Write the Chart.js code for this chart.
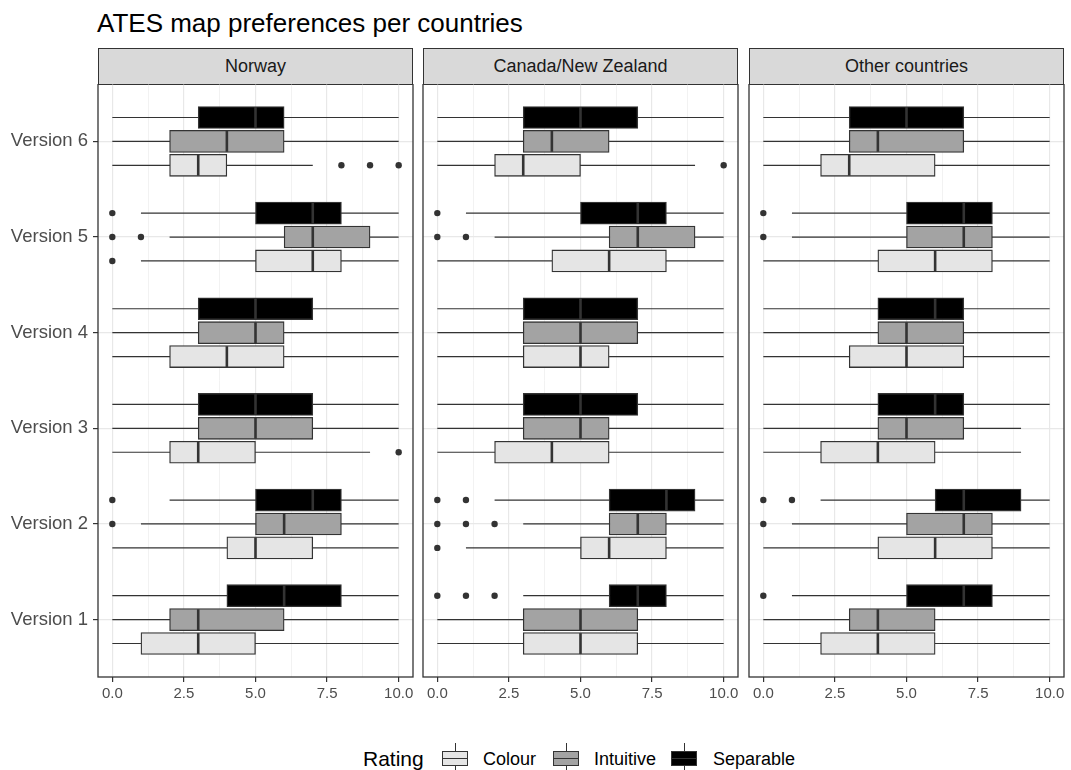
<!DOCTYPE html>
<html>
<head>
<meta charset="utf-8">
<script src="https://cdn.jsdelivr.net/npm/chart.js@4.4.1/dist/chart.umd.min.js"></script>
<style>
  html,body{margin:0;padding:0;background:#fff;}
  body{width:1071px;height:770px;position:relative;overflow:hidden;font-family:"Liberation Sans",Arial,sans-serif;}
  #title{position:absolute;left:97px;top:10px;font-size:26px;line-height:26px;color:#000;white-space:nowrap;}
  .strip{position:absolute;top:48px;height:37px;width:315px;background:#d9d9d9;border:1.3px solid #333;box-sizing:border-box;display:flex;align-items:center;justify-content:center;font-size:18px;color:#1a1a1a;white-space:nowrap;}
  canvas{position:absolute;}
  #legend{position:absolute;left:0;top:740px;width:1071px;height:30px;}
  .ltitle{position:absolute;left:363px;top:8px;font-size:21px;line-height:22px;color:#000;}
  .llab{position:absolute;top:9px;font-size:18px;line-height:20px;color:#000;white-space:nowrap;}
  .key{position:absolute;top:2px;width:26px;height:30px;}
  .key .stub{position:absolute;left:12.5px;width:1.2px;background:#333;}
  .key .box{position:absolute;left:0;top:9px;width:26px;height:15px;border:1.2px solid #333;box-sizing:border-box;}
  .key .mid{position:absolute;left:0;top:15.5px;width:26px;height:1.6px;background:#333;}
</style>
</head>
<body>
<div id="title">ATES map preferences per countries</div>
<div id="strips"></div>
<div id="charts"></div>
<div id="legend"></div>
<script>
// ---------------- data ----------------
const categories = ['Version 1','Version 2','Version 3','Version 4','Version 5','Version 6'];
const countries = ['Norway','Canada/New Zealand','Other countries'];
const ratings = ['Colour','Intuitive','Separable'];
const xTickValues = [0, 2.5, 5, 7.5, 10];
const xTickLabels = ['0.0','2.5','5.0','7.5','10.0'];
const xMinorValues = [1.25, 3.75, 6.25, 8.75];

// five-number summaries [min, Q1, median, Q3, max], Version 1 .. Version 6
const norwayColour    = [[0,1,3,5,10],[0,4,5,7,10],[0,2,3,5,9],[0,2,4,6,10],[1,5,7,8,10],[0,2,3,4,7]];
const norwayColourOut = [[],[],[10],[],[0],[8,9,10]];
const norwayIntuitive    = [[0,2,3,6,10],[1,5,6,8,10],[0,3,5,7,10],[0,3,5,6,10],[2,6,7,9,10],[0,2,4,6,10]];
const norwayIntuitiveOut = [[],[0],[],[],[0,1],[]];
const norwaySeparable    = [[0,4,6,8,10],[2,5,7,8,10],[0,3,5,7,10],[0,3,5,7,10],[1,5,7,8,10],[0,3,5,6,10]];
const norwaySeparableOut = [[],[0],[],[],[0],[]];

const canadaColour    = [[0,3,5,7,10],[1,5,6,8,10],[0,2,4,6,10],[0,3,5,6,10],[0,4,6,8,10],[0,2,3,5,9]];
const canadaColourOut = [[],[0],[],[],[],[10]];
const canadaIntuitive    = [[0,3,5,7,10],[3,6,7,8,10],[0,3,5,6,10],[0,3,5,7,10],[2,6,7,9,10],[0,3,4,6,10]];
const canadaIntuitiveOut = [[],[0,1,2],[],[],[0,1],[]];
const canadaSeparable    = [[3,6,7,8,10],[2,6,8,9,10],[0,3,5,7,10],[0,3,5,7,10],[1,5,7,8,10],[0,3,5,7,10]];
const canadaSeparableOut = [[0,1,2],[0,1],[],[],[0],[]];

const otherColour    = [[0,2,4,6,10],[0,4,6,8,10],[0,2,4,6,9],[0,3,5,7,10],[0,4,6,8,10],[0,2,3,6,10]];
const otherColourOut = [[],[],[],[],[],[]];
const otherIntuitive    = [[0,3,4,6,10],[1,5,7,8,10],[0,4,5,7,9],[0,4,5,7,10],[1,5,7,8,10],[0,3,4,7,10]];
const otherIntuitiveOut = [[],[0],[],[],[0],[]];
const otherSeparable    = [[1,5,7,8,10],[2,6,7,9,10],[0,4,6,7,10],[0,4,6,7,10],[1,5,7,8,10],[0,3,5,7,10]];
const otherSeparableOut = [[0],[0,1],[],[],[0],[]];

// ---------------- styling / layout ----------------
const fills = {Colour:'#e5e5e5', Intuitive:'#a3a3a3', Separable:'#000000'};
const dodge = {Colour:-0.25, Intuitive:0, Separable:0.25};
const drawOrder = ['Separable','Intuitive','Colour'];
const panelLefts = [98, 423, 749];
const panelWidth = 315;
const panelTop = 84, canvasHeight = 627, xAxisHeight = 34;
const FONT = '"Liberation Sans", Arial, sans-serif';

const panels = [
  {Colour:[norwayColour,norwayColourOut], Intuitive:[norwayIntuitive,norwayIntuitiveOut], Separable:[norwaySeparable,norwaySeparableOut]},
  {Colour:[canadaColour,canadaColourOut], Intuitive:[canadaIntuitive,canadaIntuitiveOut], Separable:[canadaSeparable,canadaSeparableOut]},
  {Colour:[otherColour,otherColourOut], Intuitive:[otherIntuitive,otherIntuitiveOut], Separable:[otherSeparable,otherSeparableOut]}
];

const boxExtras = {
  id: 'boxExtras',
  beforeDatasetsDraw(chart) {
    const ctx = chart.ctx, xs = chart.scales.x;
    ctx.save();
    ctx.strokeStyle = '#333'; ctx.lineWidth = 1.2;
    chart.data.datasets.forEach((ds, di) => {
      chart.getDatasetMeta(di).data.forEach((bar, i) => {
        const s = ds.stats[i];
        ctx.beginPath();
        ctx.moveTo(xs.getPixelForValue(s[0]), bar.y);
        ctx.lineTo(xs.getPixelForValue(s[4]), bar.y);
        ctx.stroke();
      });
    });
    ctx.restore();
  },
  afterDatasetsDraw(chart) {
    const ctx = chart.ctx, xs = chart.scales.x;
    ctx.save();
    chart.data.datasets.forEach((ds, di) => {
      chart.getDatasetMeta(di).data.forEach((bar, i) => {
        const s = ds.stats[i];
        const h = bar.height;
        const mx = xs.getPixelForValue(s[2]);
        ctx.strokeStyle = '#333'; ctx.lineWidth = 2.6;
        ctx.beginPath();
        ctx.moveTo(mx, bar.y - h/2 + 0.6);
        ctx.lineTo(mx, bar.y + h/2 - 0.6);
        ctx.stroke();
        ctx.fillStyle = '#333';
        ds.outliers[i].forEach(o => {
          ctx.beginPath();
          ctx.arc(xs.getPixelForValue(o), bar.y, 3.2, 0, Math.PI*2);
          ctx.fill();
        });
      });
    });
    ctx.restore();
  },
  afterDraw(chart) {
    const {ctx, chartArea:a} = chart;
    ctx.save();
    ctx.strokeStyle = '#333'; ctx.lineWidth = 1.3;
    ctx.strokeRect(a.left, a.top, a.right - a.left, a.bottom - a.top);
    ctx.restore();
  }
};

function makePanel(p) {
  const L = panelLefts[p];
  const yWidth = p === 0 ? L : 10;
  const canvasLeft = L - yWidth;
  const canvasWidth = yWidth + panelWidth + 10;

  const strip = document.createElement('div');
  strip.className = 'strip';
  strip.style.left = L + 'px';
  strip.textContent = countries[p];
  document.getElementById('strips').appendChild(strip);

  const cv = document.createElement('canvas');
  cv.width = canvasWidth; cv.height = canvasHeight;
  cv.style.left = canvasLeft + 'px'; cv.style.top = panelTop + 'px';
  cv.style.width = canvasWidth + 'px'; cv.style.height = canvasHeight + 'px';
  document.getElementById('charts').appendChild(cv);

  const datasets = drawOrder.map(r => {
    const [stats, outs] = panels[p][r];
    return {
      label: r,
      data: categories.map((c, i) => ({y: i + 1 + dodge[r], x: [stats[i][1], stats[i][3]]})),
      stats: stats,
      outliers: outs,
      backgroundColor: fills[r],
      borderColor: '#333',
      borderWidth: 1.3,
      borderSkipped: false,
      barThickness: 22,
      grouped: false
    };
  });

  const allX = xTickValues.concat(xMinorValues).sort((a,b)=>a-b);
  const isMajor = v => xTickValues.indexOf(v) >= 0;

  new Chart(cv, {
    type: 'bar',
    data: {datasets},
    plugins: [boxExtras],
    options: {
      indexAxis: 'y',
      responsive: false,
      animation: false,
      devicePixelRatio: 1,
      layout: {padding: {left: 0, right: 10, top: 0, bottom: 0}},
      plugins: {legend: {display: false}, tooltip: {enabled: false}, title: {display: false}},
      scales: {
        x: {
          type: 'linear', min: -0.5, max: 10.5,
          afterBuildTicks: s => { s.ticks = allX.map(v => ({value: v})); },
          afterFit: s => { s.height = xAxisHeight; s.paddingLeft = 0; s.paddingRight = 0; },
          border: {display: false},
          grid: {
            color: c => (c.tick && isMajor(c.tick.value)) ? '#e8e8e8' : '#f1f1f1',
            lineWidth: c => (c.tick && isMajor(c.tick.value)) ? 1.2 : 0.9,
            tickColor: c => (c.tick && isMajor(c.tick.value)) ? '#333' : 'rgba(0,0,0,0)',
            tickLength: 5, tickWidth: 1.2
          },
          ticks: {
            autoSkip: false, maxRotation: 0, padding: 3,
            color: '#4d4d4d', font: {family: FONT, size: 15},
            callback: v => { const k = xTickValues.indexOf(v); return k >= 0 ? xTickLabels[k] : ''; }
          }
        },
        y: {
          type: 'linear', min: 0.4, max: 6.6, offset: false,
          afterBuildTicks: s => { s.ticks = categories.map((c, i) => ({value: i + 1})); },
          afterFit: s => { s.width = yWidth; s.paddingTop = 0; s.paddingBottom = 0; },
          border: {display: false},
          grid: {
            offset: false, color: '#e8e8e8', lineWidth: 1.2,
            drawTicks: p === 0, tickLength: 5, tickColor: '#333', tickWidth: 1.2
          },
          ticks: {
            display: p === 0, padding: 5, autoSkip: false,
            color: '#4d4d4d', font: {family: FONT, size: 18.5},
            callback: v => categories[Math.round(v) - 1]
          }
        }
      }
    }
  });
}

[0,1,2].forEach(makePanel);

// ---------------- legend ----------------
const legend = document.getElementById('legend');
const lt = document.createElement('div');
lt.className = 'ltitle'; lt.textContent = 'Rating';
legend.appendChild(lt);
const keyLefts = {Colour:442, Intuitive:553, Separable:671};
const labLefts = {Colour:483, Intuitive:594, Separable:713};
ratings.forEach(r => {
  const k = document.createElement('div');
  k.className = 'key'; k.style.left = keyLefts[r] + 'px';
  k.innerHTML = '<div class="stub" style="top:1px;height:8px"></div>' +
    '<div class="box" style="background:' + fills[r] + '"></div>' +
    '<div class="mid"></div>' +
    '<div class="stub" style="top:24px;height:8px"></div>';
  legend.appendChild(k);
  const lb = document.createElement('div');
  lb.className = 'llab'; lb.style.left = labLefts[r] + 'px'; lb.textContent = r;
  legend.appendChild(lb);
});
</script>
</body>
</html>
